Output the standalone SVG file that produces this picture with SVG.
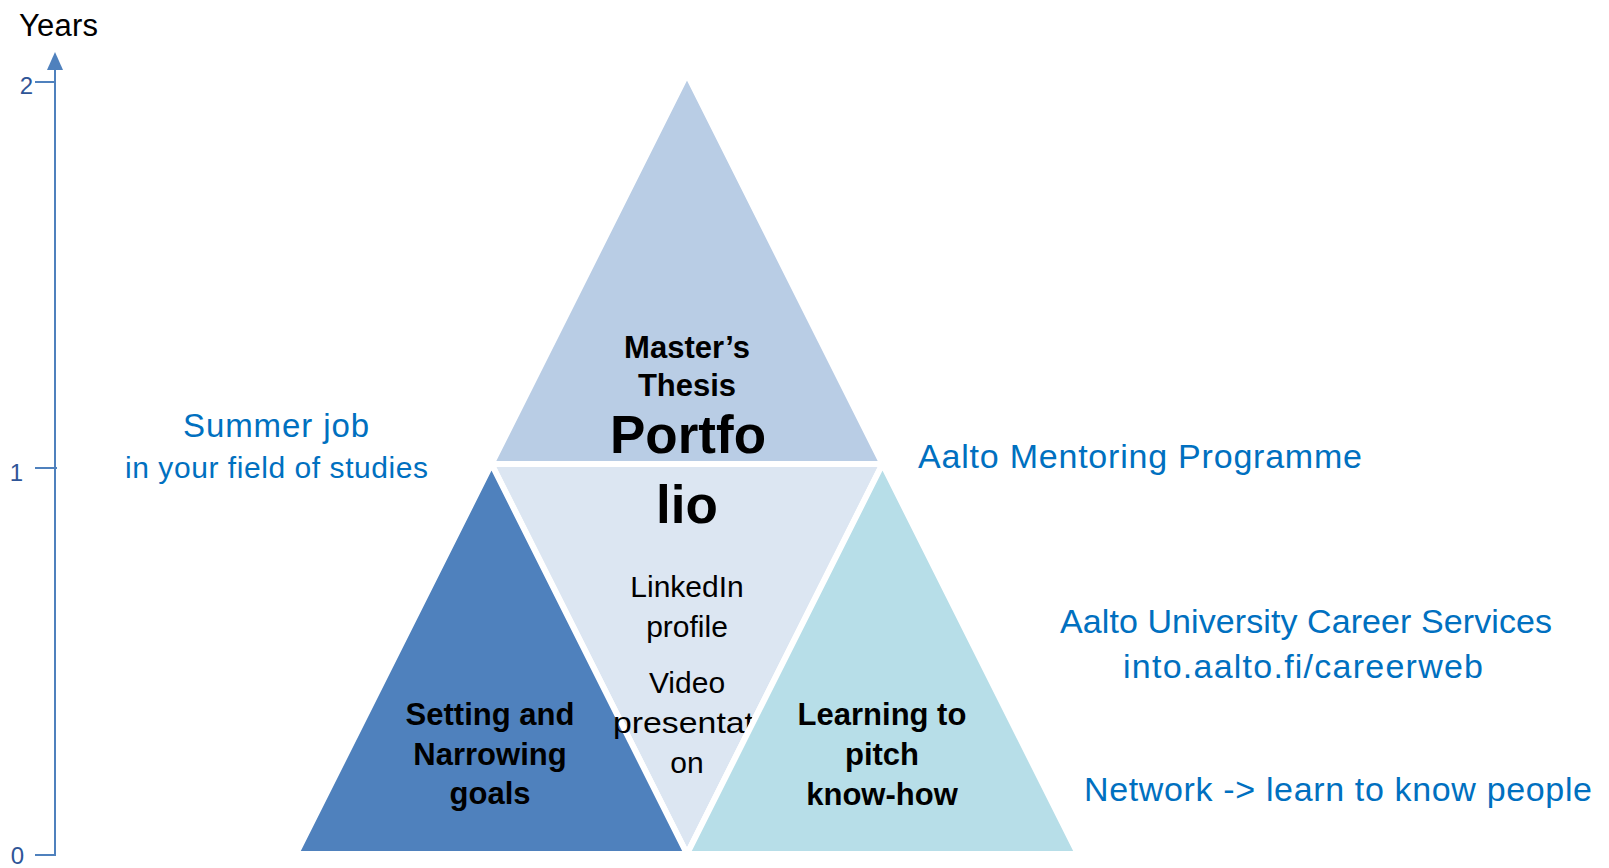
<svg xmlns="http://www.w3.org/2000/svg" width="1609" height="868" viewBox="0 0 1609 868">
<style>
  .tri { stroke: #FFFFFF; stroke-width: 6; stroke-linejoin: miter; }
  .blue { font-family: "Liberation Sans", Arial, sans-serif; fill: #0070C0; }
  .bold { font-family: "Liberation Sans", Arial, sans-serif; font-weight: bold; fill: #000000; text-anchor: middle; }
  .reg { font-family: "Liberation Sans", Arial, sans-serif; fill: #000000; }
  .axis { stroke: #4F81BD; stroke-width: 2; fill: none; }
  .tick { font-family: "Liberation Sans", Arial, sans-serif; fill: #2F5597; text-anchor: end; }
</style>
<rect width="1609" height="868" fill="#FFFFFF"/>

<g id="axis">
  <text class="reg" x="19" y="36" font-size="31" textLength="79">Years</text>
  <line class="axis" x1="55" y1="66" x2="55" y2="855"/>
  <polygon points="55,52 47,70 63,70" fill="#4F81BD"/>
  <line class="axis" x1="35" y1="82" x2="55" y2="82"/>
  <line class="axis" x1="35" y1="468" x2="57" y2="468"/>
  <line class="axis" x1="35" y1="855" x2="56" y2="855"/>
  <text class="tick" x="33" y="94" font-size="24">2</text>
  <text class="tick" x="23" y="481" font-size="24">1</text>
  <text class="tick" x="24" y="864" font-size="24">0</text>
</g>

<g id="top-triangle">
  <polygon class="tri" points="687,74 882.5,464 491.5,464" fill="#B9CDE5"/>
</g>

<g id="middle-triangle">
  <polygon class="tri" points="491.5,464 882.5,464 687,854" fill="#DCE6F2"/>
</g>

<g id="left-triangle">
  <polygon class="tri" points="491.5,464 687,854 296,854" fill="#4F81BD"/>
</g>

<g id="middle-text">
  <text class="bold" x="687" y="523" font-size="53">lio</text>
  <text class="reg" x="687" y="597" font-size="30" text-anchor="middle">LinkedIn</text>
  <text class="reg" x="687" y="637" font-size="30" text-anchor="middle">profile</text>
  <text class="reg" x="687" y="693" font-size="30" text-anchor="middle">Video</text>
  <text class="reg" x="613" y="733" font-size="30" textLength="141" lengthAdjust="spacingAndGlyphs">presentat</text>
  <text class="reg" x="687" y="773" font-size="30" text-anchor="middle">on</text>
</g>

<g id="right-triangle">
  <polygon class="tri" points="882.5,464 1078,854 687,854" fill="#B7DEE8"/>
</g>

<g id="left-text">
  <text class="bold" x="490" y="725" font-size="31">Setting and</text>
  <text class="bold" x="490" y="765" font-size="31">Narrowing</text>
  <text class="bold" x="490" y="804" font-size="31">goals</text>
</g>

<g id="right-text">
  <text class="bold" x="882" y="725" font-size="31">Learning to</text>
  <text class="bold" x="882" y="765" font-size="31">pitch</text>
  <text class="bold" x="882" y="805" font-size="31">know-how</text>
</g>

<g id="top-text">
  <text class="bold" x="687" y="358" font-size="31">Master’s</text>
  <text class="bold" x="687" y="396" font-size="31">Thesis</text>
  <text class="bold" x="688" y="453" font-size="53">Portfo</text>
</g>

<g id="summer-job">
  <text class="blue" x="276" y="437" font-size="33" text-anchor="middle" textLength="186">Summer job</text>
  <text class="blue" x="276.5" y="478" font-size="30" text-anchor="middle" textLength="303">in your field of studies</text>
</g>

<g id="mentoring">
  <text class="blue" x="918" y="468" font-size="34" textLength="444">Aalto Mentoring Programme</text>
</g>

<g id="career-services">
  <text class="blue" x="1060" y="633" font-size="34" textLength="492">Aalto University Career Services</text>
  <text class="blue" x="1123" y="678" font-size="34" textLength="360">into.aalto.fi/careerweb</text>
</g>

<g id="network">
  <text class="blue" x="1084" y="801" font-size="34" textLength="508">Network -&gt; learn to know people</text>
</g>
</svg>
